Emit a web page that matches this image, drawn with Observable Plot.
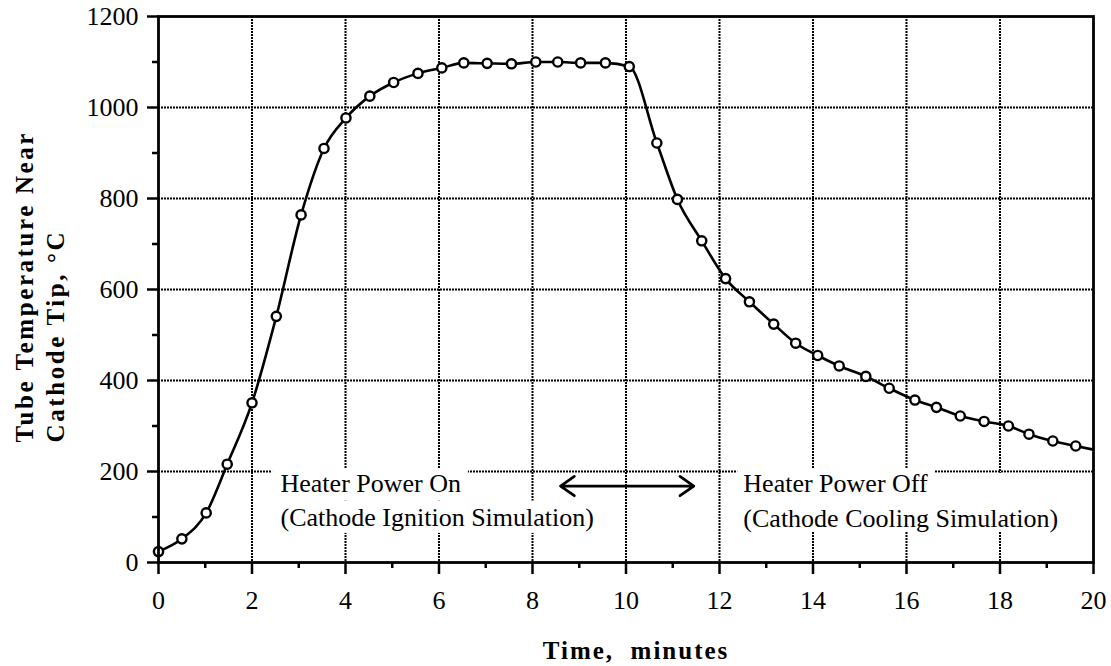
<!DOCTYPE html>
<html><head><meta charset="utf-8">
<script src="https://cdn.jsdelivr.net/npm/d3@7"></script>
<script src="https://cdn.jsdelivr.net/npm/@observablehq/plot@0.6"></script>
<style>html,body{margin:0;padding:0;background:#fff}</style>
</head><body><div id="chart"></div>
<script>
// Measured points (time in minutes, temperature in °C)
const times = [0, 0.5, 1.02, 1.47, 2.0, 2.52, 3.05, 3.54, 4.01, 4.52, 5.03, 5.55, 6.06, 6.53, 7.03, 7.55, 8.07, 8.54, 9.03, 9.56,
               10.07, 10.66, 11.1, 11.62, 12.13, 12.64, 13.16, 13.63, 14.1, 14.56, 15.13, 15.63, 16.18, 16.64, 17.15, 17.66, 18.18, 18.62, 19.13, 19.62];
const temps = [24, 52, 109, 216, 351, 541, 764, 910, 977, 1025, 1055, 1075, 1087, 1098, 1097, 1096, 1100, 1100, 1098, 1098,
               1090, 922, 798, 707, 624, 573, 524, 482, 455, 432, 409, 383, 357, 341, 322, 310, 300, 282, 267, 256];
// the curve continues to the right edge of the frame
const lineEndTime = 20;
const lineEndTemp = 248;

const xMajorTicks = [0, 2, 4, 6, 8, 10, 12, 14, 16, 18, 20];
const xMinorTicks = [1, 3, 5, 7, 9, 11, 13, 15, 17, 19];
const yMajorTicks = [0, 200, 400, 600, 800, 1000, 1200];
const yMinorTicks = [100, 300, 500, 700, 900, 1100];
const xGrid = [2, 4, 6, 8, 10, 12, 14, 16, 18];
const yGrid = [200, 400, 600, 800, 1000];

const xTitle = "Time,\u00a0\u00a0minutes";
const yTitle = "Tube Temperature Near\nCathode Tip, °C";

// annotations
const noteText = ["Heater Power On", "(Cathode Ignition Simulation)", "Heater Power Off", "(Cathode Cooling Simulation)"];
const noteX = [2.61, 2.61, 12.51, 12.51];
const noteY = [173, 98, 173, 96];
const maskX1 = [2.44, 2.44, 12.39, 12.39];
const maskX2 = [6.63, 9.62, 16.62, 19.5];
const maskY1 = [135, 64, 135, 66];
const maskY2 = [205, 135, 205, 196];
const arrowFrom = [10, 10];
const arrowTo = [8.6, 11.45];
const arrowY = 168;

const pts = times.map((t, i) => ({t, v: temps[i]}));
const linePts = pts.concat([{t: lineEndTime, v: lineEndTemp}]);
const notes = noteText.map((s, i) => ({s, x: noteX[i], y: noteY[i]}));
const masks = maskX1.map((x1, i) => ({x1, x2: maskX2[i], y1: maskY1[i], y2: maskY2[i]}));
const arrows = arrowFrom.map((x1, i) => ({x1, x2: arrowTo[i], y: arrowY}));

const serif = "Liberation Serif, Times New Roman, serif";
const boldFont = "Liberation Serif, serif";
const plain = d => String(d);

const chart = Plot.plot({
  width: 1111,
  height: 666,
  marginLeft: 158,
  marginRight: 18,
  marginTop: 16,
  marginBottom: 104,
  style: {fontFamily: serif, fontSize: "26px", background: "white", color: "black"},
  x: {domain: [0, 20]},
  y: {domain: [0, 1200]},
  marks: [
    Plot.ruleX(xGrid, {stroke: "black", strokeWidth: 2, strokeDasharray: "2,1"}),
    Plot.ruleY(yGrid, {stroke: "black", strokeWidth: 2, strokeDasharray: "2,1"}),
    Plot.rect(masks, {x1: "x1", x2: "x2", y1: "y1", y2: "y2", fill: "white"}),
    Plot.arrow(arrows, {x1: "x1", x2: "x2", y1: "y", y2: "y", stroke: "black", strokeWidth: 2.8, headLength: 9, headAngle: 70}),
    Plot.text(notes, {x: "x", y: "y", text: "s", textAnchor: "start", lineAnchor: "middle", fontSize: 26, fontFamily: serif, fill: "black"}),
    Plot.line(linePts, {x: "t", y: "v", curve: "monotone-x", stroke: "black", strokeWidth: 2.6}),
    Plot.dot(pts, {x: "t", y: "v", r: 4.6, stroke: "black", strokeWidth: 2.4, fill: "white"}),
    Plot.frame({stroke: "black", strokeWidth: 2.8}),
    Plot.axisY(yMajorTicks, {tickSize: 11, tickPadding: 9, strokeWidth: 2.5, tickFormat: plain, fontSize: 26, fontFamily: serif, label: null}),
    Plot.axisY(yMinorTicks, {tickSize: 6, strokeWidth: 2.5, tickFormat: () => "", label: null}),
    Plot.axisX(xMajorTicks, {tickSize: 12, tickPadding: 16, strokeWidth: 2.5, tickFormat: plain, fontSize: 26, fontFamily: serif, label: null}),
    Plot.axisX(xMinorTicks, {tickSize: 6, strokeWidth: 2.5, tickFormat: () => "", label: null}),
    Plot.text([xTitle], {frameAnchor: "bottom", dy: 88, dx: 10, lineAnchor: "middle", fontSize: 25, fontWeight: "bold", fontFamily: boldFont, fill: "black"}),
    Plot.text([yTitle], {frameAnchor: "left", rotate: -90, textAnchor: "start", lineAnchor: "middle", dx: -120, dy: 153, lineHeight: 1.24, fontSize: 25, fontWeight: "bold", fontFamily: boldFont, fill: "black"})
  ]
});
// wider letter spacing on the bold axis titles
d3.select(chart).selectAll("text")
  .filter(function() { return this.textContent.includes("minutes"); })
  .style("letter-spacing", "2px");
d3.select(chart).selectAll("text")
  .filter(function() { return this.textContent.includes("Tube"); })
  .style("letter-spacing", "2.6px");
document.getElementById("chart").appendChild(chart);
</script>
</body></html>
